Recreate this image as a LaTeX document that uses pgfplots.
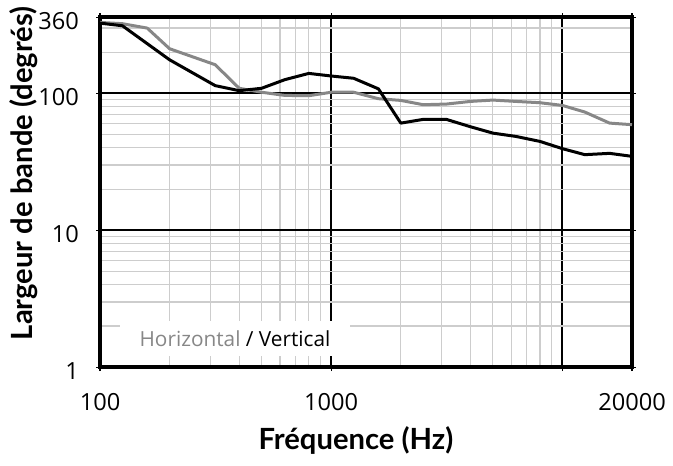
\documentclass[border=0pt]{standalone}
\usepackage{fontspec}
\setmainfont{Open Sans}
\newfontfamily\labelfont{Lato}
\usepackage{pgfplots}
\pgfplotsset{compat=1.18}
\definecolor{hgray}{RGB}{135,135,135}
\definecolor{mgrid}{RGB}{205,205,205}
\pgfplotstableread{
f v
100 326
125 312
200 176
315 114
400 104.7
500 109
630 126
800 140
1000 134
1250 129
1600 108
2000 60.7
2500 64.6
3150 64.6
4000 57.1
5000 51.3
6300 48.5
8000 44.6
10000 39.5
12500 35.7
16000 36.5
20000 34.7
}\vertical
\pgfplotstableread{
f v
100 330
125 323
160 300
200 212
315 162
400 109
500 102
630 96.7
800 96.2
1000 102
1250 102
1600 91.5
2000 88.9
2500 82.7
3150 83.6
4000 87.4
5000 89.4
6300 87.4
8000 85.5
10000 81.7
12500 73.1
16000 60.7
20000 59.1
}\horizontal
\begin{document}
\begin{tikzpicture}
\begin{axis}[
  xmode=log, ymode=log,
  scale only axis, width=266pt, height=175pt,
  xmin=100, xmax=20000, ymin=1, ymax=360,
  xtick={100,1000,10000,20000}, xticklabels={100,1000,,20000},
  ytick={1,10,100,360}, yticklabels={1,10,100,360},
  minor xtick={200,300,400,500,600,700,800,900,2000,3000,4000,5000,6000,7000,8000,9000},
  minor ytick={2,3,4,5,6,7,8,9,20,30,40,50,60,70,80,90,200,300},
  grid=both,
  major grid style={black, line width=1pt},
  minor grid style={mgrid, line width=0.6pt},
  axis line style={line width=2.2pt},
  tick align=outside, major tick length=2pt, minor tick length=0pt,
  tick style={black, line width=0.6pt},
  xticklabel style={font=\fontsize{11.8}{14}\selectfont, yshift=-7.5pt},
  yticklabel style={font=\fontsize{11.8}{14}\selectfont, xshift=-5pt, yshift=-2pt},
  /pgf/number format/assume math mode=true,
  xlabel={Fréquence (Hz)}, ylabel={Largeur de bande (degrés)},
  xlabel style={font=\labelfont\bfseries\fontsize{14.6}{17}\selectfont, at={(axis description cs:0.481,-0.208)}, anchor=center},
  ylabel style={font=\labelfont\bfseries\fontsize{14.6}{17}\selectfont, at={(axis description cs:-0.1430,0.554)}, anchor=center},
]
\addplot[hgray, line width=1.5pt, line join=round] table[x=f, y=v] {\horizontal};
\addplot[black, line width=1.5pt, line join=round] table[x=f, y=v] {\vertical};
\fill[white] (rel axis cs:0.0376,0.031) rectangle (rel axis cs:0.47,0.131);
\node[font=\fontsize{10.4}{12}\selectfont] at (rel axis cs:0.2538,0.0814) {\textcolor{hgray}{Horizontal} / Vertical};
\end{axis}
\path ([shift={(-50pt,-49pt)}]current axis.south west) rectangle ([shift={(20.5pt,8pt)}]current axis.north east);
\end{tikzpicture}
\end{document}
